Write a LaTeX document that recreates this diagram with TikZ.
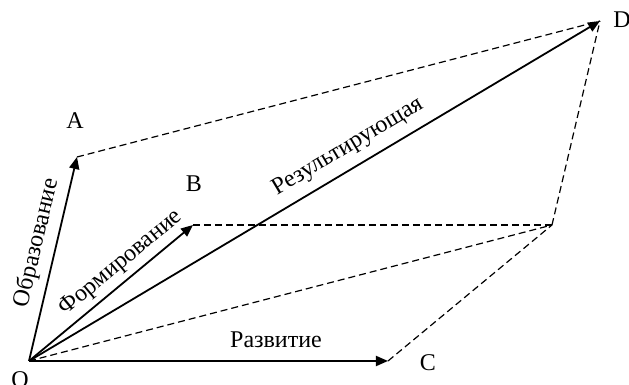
\documentclass[tikz,border=0pt]{standalone}
\usepackage{fontspec}
\setmainfont{Liberation Serif}
\usetikzlibrary{arrows.meta}

\begin{document}
\begin{tikzpicture}[x=0.5pt, y=-0.5pt,
  vec/.style={-{Triangle[length=6pt,width=5pt]}, line width=0.9pt},
  aux/.style={dash pattern=on 3.5pt off 2pt, line width=0.6pt},
  pt/.style={font=\fontsize{12}{14}\selectfont, inner sep=0pt},
  lab/.style={font=\fontsize{12}{14}\selectfont, inner sep=0pt}]
  \useasboundingbox (0,0) rectangle (629,385);
  % points of the parallelogram
  \coordinate (o) at (29,361);
  \coordinate (a) at (77,157);
  \coordinate (b) at (193,225);
  \coordinate (c) at (388,361);
  \coordinate (e) at (552,225);
  \coordinate (d) at (600,21);
  % dashed construction lines
  \draw[aux] (a) -- (d);
  \draw[aux] (b) -- (e);
  \draw[aux] (c) -- (e);
  \draw[aux] (e) -- (d);
  \draw[aux] (o) -- (e);
  % vectors
  \draw[vec] (o) -- (a);
  \draw[vec] (o) -- (b);
  \draw[vec] (o) -- (c);
  \draw[vec] (o) -- (d);
  % point names
  \node[pt] (la) at (75,121) {A};
  \node[pt] (lb) at (194,184) {B};
  \node[pt] (lc) at (428,363) {C};
  \node[pt] (ld) at (622,20) {D};
  \node[pt] (lo) at (20,380) {O};
  % vector names
  \node[lab, rotate=76.8] (obr) at (37,243) {Образование};
  \node[lab, rotate=39.7] (form) at (121,263) {Формирование};
  \node[lab, rotate=30.8] (res) at (348,147) {Результирующая};
  \node[lab] (raz) at (276,340) {Развитие};
\end{tikzpicture}
\end{document}
